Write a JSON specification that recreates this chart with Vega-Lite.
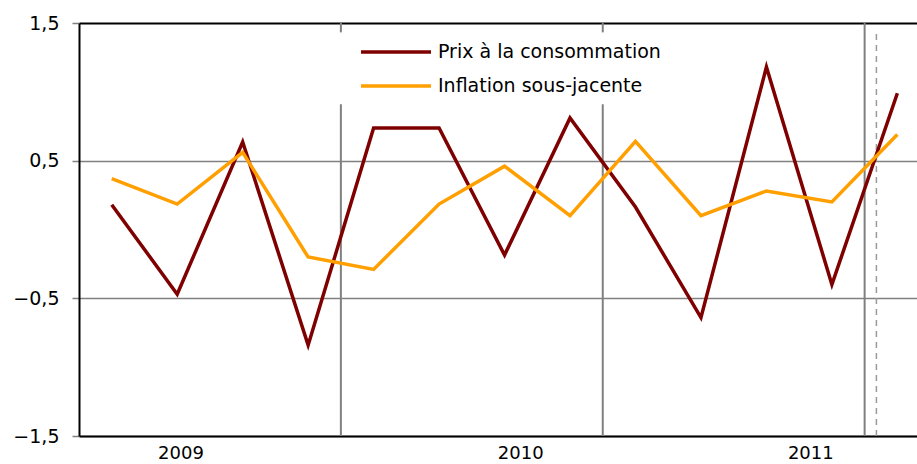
{
  "$schema": "https://vega.github.io/schema/vega-lite/v6.json",
  "width": 838,
  "height": 413,
  "autosize": {"type": "none"},
  "padding": {"left": 79, "top": 23, "right": 0, "bottom": 28},
  "background": "white",
  "config": {
    "view": {"stroke": null},
    "font": "DejaVu Sans"
  },
  "datasets": {
    "series": [
      {"serie": "Prix à la consommation", "idx": 0, "value": 0.18},
      {"serie": "Prix à la consommation", "idx": 1, "value": -0.47},
      {"serie": "Prix à la consommation", "idx": 2, "value": 0.635},
      {"serie": "Prix à la consommation", "idx": 3, "value": -0.84},
      {"serie": "Prix à la consommation", "idx": 4, "value": 0.737},
      {"serie": "Prix à la consommation", "idx": 5, "value": 0.737},
      {"serie": "Prix à la consommation", "idx": 6, "value": -0.186},
      {"serie": "Prix à la consommation", "idx": 7, "value": 0.81},
      {"serie": "Prix à la consommation", "idx": 8, "value": 0.163},
      {"serie": "Prix à la consommation", "idx": 9, "value": -0.64},
      {"serie": "Prix à la consommation", "idx": 10, "value": 1.18},
      {"serie": "Prix à la consommation", "idx": 11, "value": -0.4},
      {"serie": "Prix à la consommation", "idx": 12, "value": 0.99},
      {"serie": "Inflation sous-jacente", "idx": 0, "value": 0.37},
      {"serie": "Inflation sous-jacente", "idx": 1, "value": 0.185},
      {"serie": "Inflation sous-jacente", "idx": 2, "value": 0.56},
      {"serie": "Inflation sous-jacente", "idx": 3, "value": -0.2},
      {"serie": "Inflation sous-jacente", "idx": 4, "value": -0.29},
      {"serie": "Inflation sous-jacente", "idx": 5, "value": 0.185},
      {"serie": "Inflation sous-jacente", "idx": 6, "value": 0.46},
      {"serie": "Inflation sous-jacente", "idx": 7, "value": 0.1},
      {"serie": "Inflation sous-jacente", "idx": 8, "value": 0.64},
      {"serie": "Inflation sous-jacente", "idx": 9, "value": 0.1},
      {"serie": "Inflation sous-jacente", "idx": 10, "value": 0.28},
      {"serie": "Inflation sous-jacente", "idx": 11, "value": 0.2},
      {"serie": "Inflation sous-jacente", "idx": 12, "value": 0.69}
    ],
    "separators": [
      {"p": 3.5, "top": 0.91, "bottom": -1.5},
      {"p": 3.5, "top": 1.5, "bottom": 1.432},
      {"p": 7.5, "top": 0.91, "bottom": -1.5},
      {"p": 7.5, "top": 1.5, "bottom": 1.432},
      {"p": 11.5, "top": 1.5, "bottom": -1.5}
    ],
    "dashed": [{"p": 11.68, "top": 1.42, "bottom": -1.5}]
  },
  "layer": [
    {
      "data": {"name": "separators"},
      "mark": {"type": "rule", "color": "#808080", "strokeWidth": 2},
      "encoding": {
        "x": {"field": "p", "type": "quantitative", "scale": {"domain": [-0.5, 12.3], "nice": false, "zero": false}},
        "y": {"field": "top", "type": "quantitative"},
        "y2": {"field": "bottom"}
      }
    },
    {
      "data": {"name": "dashed"},
      "mark": {"type": "rule", "color": "#9a9a9a", "strokeWidth": 1.5, "strokeDash": [6, 5]},
      "encoding": {
        "x": {"field": "p", "type": "quantitative"},
        "y": {"field": "top", "type": "quantitative"},
        "y2": {"field": "bottom"}
      }
    },
    {
      "data": {"name": "series"},
      "mark": {"type": "line", "strokeWidth": 3.5},
      "encoding": {
        "x": {
          "field": "idx",
          "type": "quantitative",
          "scale": {"domain": [-0.5, 12.3], "nice": false, "zero": false},
          "axis": {
            "title": null,
            "values": [1.05, 6.24, 10.67],
            "labelExpr": "datum.value < 3 ? '2009' : (datum.value < 8 ? '2010' : '2011')",
            "ticks": false,
            "grid": false,
            "domainColor": "black",
            "domainWidth": 2,
            "labelFontSize": 18,
            "labelColor": "black",
            "labelPadding": 8,
            "labelFont": "DejaVu Sans"
          }
        },
        "y": {
          "field": "value",
          "type": "quantitative",
          "scale": {"domain": [-1.5, 1.5], "nice": false, "zero": false},
          "axis": {
            "title": null,
            "values": [-1.5, -0.5, 0.5, 1.5],
            "labelExpr": "replace(format(datum.value, '.1f'), '.', ',')",
            "domainColor": "black",
            "domainWidth": 2,
            "tickColor": "#808080",
            "tickSize": 7,
            "tickWidth": 1.5,
            "labelPadding": 13,
            "labelFontSize": 19,
            "labelColor": "black",
            "labelFont": "DejaVu Sans",
            "grid": true,
            "gridColor": {"condition": {"test": "datum.value == 1.5", "value": "black"}, "value": "#808080"},
            "gridWidth": {"condition": {"test": "datum.value == 1.5", "value": 2}, "value": 1.5}
          }
        },
        "color": {
          "field": "serie",
          "type": "nominal",
          "scale": {"domain": ["Prix à la consommation", "Inflation sous-jacente"], "range": ["#7F0000", "#FF9F00"]},
          "legend": {
            "title": null,
            "orient": "none",
            "legendX": 301,
            "legendY": 13,
            "padding": 5,
            "symbolType": "M-3.89,0H3.89",
            "symbolSize": 324,
            "symbolStrokeWidth": 3.5,
            "labelFontSize": 19,
            "labelFont": "DejaVu Sans",
            "labelColor": "black",
            "labelOffset": 31,
            "labelLimit": 400,
            "rowPadding": 13
          }
        }
      }
    }
  ]
}
